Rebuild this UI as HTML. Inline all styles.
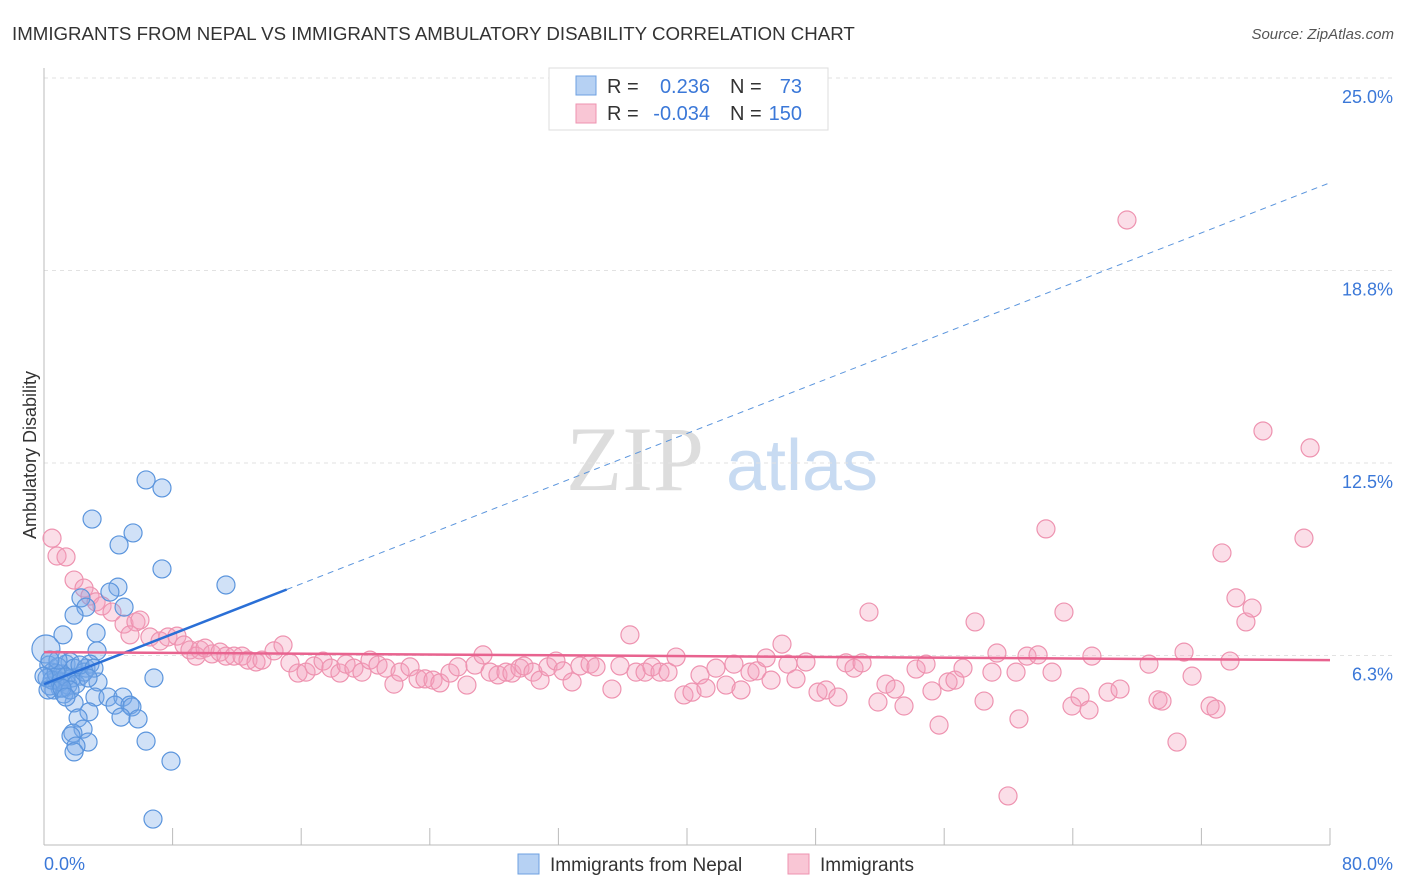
<!DOCTYPE html>
<html><head><meta charset="utf-8"><style>
body{margin:0;background:#fff;font-family:"Liberation Sans",sans-serif;}
svg{display:block}
</style></head><body>
<svg id="chart" width="1406" height="892">
<text x="12" y="40" font-size="18.7" fill="#333">IMMIGRANTS FROM NEPAL VS IMMIGRANTS AMBULATORY DISABILITY CORRELATION CHART</text>
<text x="1394" y="39" font-size="15" fill="#555" font-style="italic" text-anchor="end">Source: ZipAtlas.com</text>
<g>
<text x="635" y="490" font-size="92" fill="#ddd" font-family="Liberation Serif,serif" text-anchor="middle">ZIP</text>
<text x="802" y="490" font-size="72" fill="#c8dbf2" text-anchor="middle">atlas</text>
</g>
<g id="grid"></g>
<g id="axes"></g>
<g id="pts"></g>
<g id="lines"></g>
<text x="36" y="455" font-size="18" fill="#333" text-anchor="middle" transform="rotate(-90 36 455)">Ambulatory Disability</text>
<text x="44" y="870" font-size="18" fill="#3b78d8">0.0%</text>
<text x="1393" y="870" font-size="18" fill="#3b78d8" text-anchor="end">80.0%</text>
<g>
<rect x="549" y="68" width="279" height="62" fill="#fff" stroke="#ddd"/>
<rect x="576" y="76" width="20" height="19" fill="#b6d1f3" stroke="#6ea0e0"/>
<rect x="576" y="104" width="20" height="19" fill="#f9c6d5" stroke="#ee93b0"/>
<text x="607" y="93" font-size="20" fill="#333">R =</text>
<text x="710" y="93" font-size="20" fill="#3b78d8" text-anchor="end">0.236</text>
<text x="730" y="93" font-size="20" fill="#333">N =</text>
<text x="802" y="93" font-size="20" fill="#3b78d8" text-anchor="end">73</text>
<text x="607" y="120" font-size="20" fill="#333">R =</text>
<text x="710" y="120" font-size="20" fill="#3b78d8" text-anchor="end">-0.034</text>
<text x="730" y="120" font-size="20" fill="#333">N =</text>
<text x="802" y="120" font-size="20" fill="#3b78d8" text-anchor="end">150</text>
</g>
<g>
<rect x="518" y="854" width="21" height="20" fill="#b6d1f3" stroke="#6ea0e0"/>
<text x="550" y="871" font-size="19" fill="#333">Immigrants from Nepal</text>
<rect x="788" y="854" width="21" height="20" fill="#f9c6d5" stroke="#ee93b0"/>
<text x="820" y="871" font-size="19" fill="#333">Immigrants</text>
</g>
</svg>
<script>
const yTicks=[25,18.75,12.5,6.25];
const yTickLabels=["25.0%","18.8%","12.5%","6.3%"];
const xTicks=[0,8,16,24,32,40,48,56,64,72,80];
const blueX=[6.35,7.34,2.99,5.54,4.67,7.34,11.32,4.6,4.1,2.3,2.61,4.98,1.87,3.24,1.18,3.3,0.12,6.84,3.36,3.17,3.98,4.91,1.87,4.42,5.35,5.47,2.8,4.79,5.85,2.12,2.43,1.8,1.68,2.74,6.35,1.99,1.87,7.9,6.78,0.3,0.5,0.75,1.0,1.37,1.62,1.87,2.24,2.61,2.86,1.12,0.62,0.37,0.87,1.49,1.24,1.74,0.19,0.5,1.0,1.37,1.99,2.49,0.75,1.62,0.25,0.87,2.24,3.11,0,1.12,0.37,2.74,1.37];
const blueY=[11.95,11.69,10.68,10.23,9.84,9.06,8.54,8.47,8.31,8.12,7.82,7.82,7.56,6.98,6.92,6.40,6.46,5.52,5.39,4.90,4.90,4.90,4.71,4.64,4.64,4.58,4.42,4.25,4.19,4.22,3.86,3.73,3.64,3.44,3.47,3.31,3.12,2.82,0.94,5.94,5.71,5.45,5.19,5.97,6.04,5.84,5.58,5.84,5.97,5.65,5.13,5.26,5.88,5.29,5.0,5.52,5.52,5.45,5.39,5.55,5.32,5.71,5.68,5.13,5.13,6.10,5.94,5.84,5.58,5.19,6.1,5.52,4.9];
const pinkX=[0.5,0.81,1.37,1.87,2.49,2.86,3.24,3.61,4.23,4.98,5.72,5.97,5.35,6.59,7.22,7.71,8.27,8.71,9.08,9.70,9.46,10.02,10.45,10.95,11.32,11.82,12.32,12.69,13.19,13.56,14.31,14.87,15.30,15.80,16.30,16.80,17.36,17.85,18.41,18.79,19.28,19.78,20.28,20.78,21.28,21.77,22.15,22.77,23.27,23.70,24.20,24.63,25.26,25.75,26.31,26.81,27.31,27.75,28.24,28.74,29.11,29.61,29.86,30.42,30.86,31.35,31.85,32.29,32.85,33.34,33.97,34.34,35.33,35.83,36.45,36.83,37.39,37.82,38.32,38.82,39.32,39.81,40.31,40.81,41.18,41.80,42.43,42.92,43.36,43.92,44.35,44.92,45.23,45.91,46.28,46.78,47.40,48.15,48.65,49.39,49.89,50.39,50.89,51.32,51.88,52.38,52.94,53.50,54.25,54.87,55.24,55.68,56.24,56.67,57.17,57.92,58.48,58.97,59.28,59.97,60.47,60.65,61.15,61.84,62.33,62.71,63.45,63.95,64.45,65.01,65.19,66.19,66.94,67.37,68.74,69.30,69.55,70.48,70.92,71.42,72.54,72.91,73.28,73.78,74.15,74.77,75.15,75.83,78.38,78.76];
const pinkY=[10.06,9.48,9.45,8.70,8.44,8.18,7.99,7.86,7.66,7.27,7.34,7.40,6.92,6.85,6.72,6.85,6.88,6.59,6.43,6.43,6.23,6.49,6.30,6.36,6.23,6.23,6.23,6.10,6.04,6.10,6.40,6.59,6.01,5.68,5.71,5.91,6.07,5.84,5.68,5.97,5.84,5.71,6.10,5.94,5.84,5.32,5.71,5.88,5.49,5.49,5.45,5.36,5.68,5.88,5.29,5.94,6.27,5.71,5.62,5.71,5.68,5.84,5.91,5.71,5.45,5.88,6.07,5.75,5.39,5.91,5.97,5.88,5.16,5.91,6.92,5.71,5.71,5.88,5.71,5.71,6.20,4.97,5.06,5.62,5.19,5.84,5.29,5.97,5.13,5.71,5.75,6.17,5.45,6.62,5.97,5.49,6.04,5.06,5.13,4.90,6.01,5.84,6.01,7.66,4.74,5.32,5.16,4.61,5.81,5.97,5.10,3.99,5.39,5.45,5.84,7.34,4.77,5.71,6.33,1.69,5.71,4.19,6.23,6.27,10.36,5.71,7.66,4.61,4.90,4.48,6.23,5.06,5.16,20.39,5.97,4.81,4.77,3.44,6.36,5.58,4.61,4.51,9.58,6.07,8.12,7.34,7.79,13.54,10.06,12.99];
const blueTrend=[5.32,21.6];const blueSolidEnd=15.1;
const pinkTrend=[6.36,6.1];
const NS="http://www.w3.org/2000/svg";
const X=v=>44+v/80*1286, Y=v=>848-v*30.8;
function mk(p,t,a){const e=document.createElementNS(NS,t);for(const k in a)e.setAttribute(k,a[k]);p.appendChild(e);return e;}
const grid=document.getElementById('grid'),axes=document.getElementById('axes'),pts=document.getElementById('pts'),lines=document.getElementById('lines');
yTicks.forEach((t,i)=>{
 const l=mk(grid,'line',{x1:44,x2:1394,y1:Y(t),y2:Y(t),stroke:'#e2e2e2','stroke-dasharray':'4,4'});
 
 
 const tx=mk(grid,'text',{x:1393,y:Y(t)+25,'font-size':18,fill:'#3b78d8','text-anchor':'end'});tx.textContent=yTickLabels[i];
 
 
});
const ax=mk(axes,'line',{x1:44,x2:44,y1:68,y2:845,stroke:'#bbb'});


const bx=mk(axes,'line',{x1:44,x2:1330,y1:845,y2:845,stroke:'#bbb'});


xTicks.forEach(t=>{const l=mk(axes,'line',{x1:X(t),x2:X(t),y1:828,y2:845,stroke:'#bbb'});
 
 });
pinkX.forEach((x,i)=>{const c=mk(pts,'circle',{cx:X(x),cy:Y(pinkY[i]),r:9,fill:'rgba(244,160,188,0.35)',stroke:'#ee93b0','stroke-width':1.2});
 
 });
blueX.forEach((x,i)=>{const c=mk(pts,'circle',{cx:X(x),cy:Y(blueY[i]),r:i==16?14:9,fill:'rgba(120,170,232,0.35)',stroke:'#5b95dd','stroke-width':1.2});
 
 });
const by=v=>blueTrend[0]+(blueTrend[1]-blueTrend[0])*v/80;
const l1=mk(lines,'line',{x1:X(0),y1:Y(by(0)),x2:X(blueSolidEnd),y2:Y(by(blueSolidEnd)),stroke:'#2a6fd6','stroke-width':2.5});


const l2=mk(lines,'line',{x1:X(blueSolidEnd),y1:Y(by(blueSolidEnd)),x2:X(80),y2:Y(by(80)),stroke:'#5b95dd','stroke-width':1,'stroke-dasharray':'6,5'});


const l3=mk(lines,'line',{x1:X(0),y1:Y(pinkTrend[0]),x2:X(80),y2:Y(pinkTrend[1]),stroke:'#e8638f','stroke-width':2.5});


</script>
</body></html>
